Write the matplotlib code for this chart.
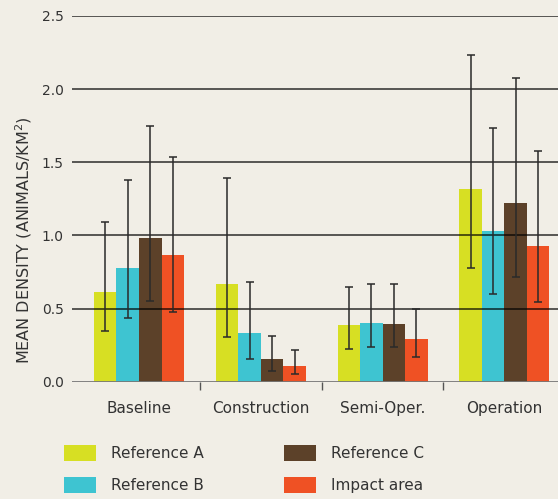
import numpy as np
import matplotlib.pyplot as plt
from matplotlib.patches import Patch

# data
phases = ['Baseline', 'Construction', 'Semi-Oper.', 'Operation']
series = ['Reference A', 'Reference B', 'Reference C', 'Impact area']
colors = ['#D7DF23', '#3EC4D1', '#5C4129', '#EF5124']

ref_a = [0.61, 0.67, 0.385, 1.315]
ref_b = [0.78, 0.335, 0.40, 1.03]
ref_c = [0.98, 0.155, 0.395, 1.22]
impact = [0.865, 0.11, 0.29, 0.925]

ref_a_lo = [0.345, 0.305, 0.225, 0.78]
ref_b_lo = [0.435, 0.155, 0.235, 0.60]
ref_c_lo = [0.55, 0.075, 0.235, 0.715]
impact_lo = [0.48, 0.055, 0.17, 0.545]

ref_a_hi = [1.09, 1.39, 0.645, 2.235]
ref_b_hi = [1.38, 0.68, 0.67, 1.735]
ref_c_hi = [1.75, 0.315, 0.665, 2.075]
impact_hi = [1.535, 0.22, 0.50, 1.575]

values = [ref_a, ref_b, ref_c, impact]
lows = [ref_a_lo, ref_b_lo, ref_c_lo, impact_lo]
highs = [ref_a_hi, ref_b_hi, ref_c_hi, impact_hi]

bg = '#F1EEE6'
plt.rcParams['font.family'] = ['DejaVu Sans']

fig = plt.figure(figsize=(5.58, 4.99), dpi=100, facecolor=bg)
ax = fig.add_axes([0.129, 0.235, 0.871, 0.733])
ax.set_facecolor(bg)

x = np.arange(len(phases))
w = 0.185
for i, (vals, lo, hi, col) in enumerate(zip(values, lows, highs, colors)):
    vals = np.array(vals)
    yerr = [vals - np.array(lo), np.array(hi) - vals]
    pos = x + (i - 1.5) * w
    ax.bar(pos, vals, width=w, color=col, zorder=2)
    ax.errorbar(pos, vals, yerr=yerr, fmt='none', ecolor='#2a2a2a',
                elinewidth=1.1, capsize=3.2, capthick=1.1, zorder=4)

ax.set_ylim(0, 2.5)
ax.set_xlim(-0.55, 3.44)
ax.set_yticks([0.0, 0.5, 1.0, 1.5, 2.0, 2.5])
ax.set_yticklabels(['0.0', '0.5', '1.0', '1.5', '2.0', '2.5'], fontsize=10, color='#333333')
for yv in [0.5, 1.0, 1.5, 2.0, 2.5]:
    ax.axhline(yv, color='black', alpha=0.75, lw=1.2, zorder=3)
ax.axhline(0, color='#777777', lw=2, zorder=3)

ax.set_xticks(x)
ax.set_xticklabels(phases, fontsize=11, color='#333333')
ax.set_xticks([0.5, 1.5, 2.5], minor=True)
ax.tick_params(axis='x', which='major', length=0, pad=14)
ax.tick_params(axis='x', which='minor', length=6, width=1, color='#555555', direction='out')
ax.tick_params(axis='y', length=0, pad=6)
for s in ax.spines.values():
    s.set_visible(False)

fig.text(24 / 558, 1 - 240 / 499, 'MEAN DENSITY (ANIMALS/KM$^2$)', rotation=90,
         ha='center', va='center', fontsize=11.5, color='#333333')

handles = [Patch(facecolor=c) for c in colors]
leg_kw = dict(loc='upper left', frameon=False, fontsize=11, handlelength=2.1,
              handleheight=1.25, labelspacing=1.0, handletextpad=1.0,
              borderpad=0, borderaxespad=0)
leg1 = fig.legend(handles[:2], series[:2], bbox_to_anchor=(0.114, 0.108), **leg_kw)
leg2 = fig.legend(handles[2:], series[2:], bbox_to_anchor=(0.509, 0.108), **leg_kw)
for leg in (leg1, leg2):
    for t in leg.get_texts():
        t.set_color('#333333')

fig.savefig('out.png', dpi=100, facecolor=bg)
